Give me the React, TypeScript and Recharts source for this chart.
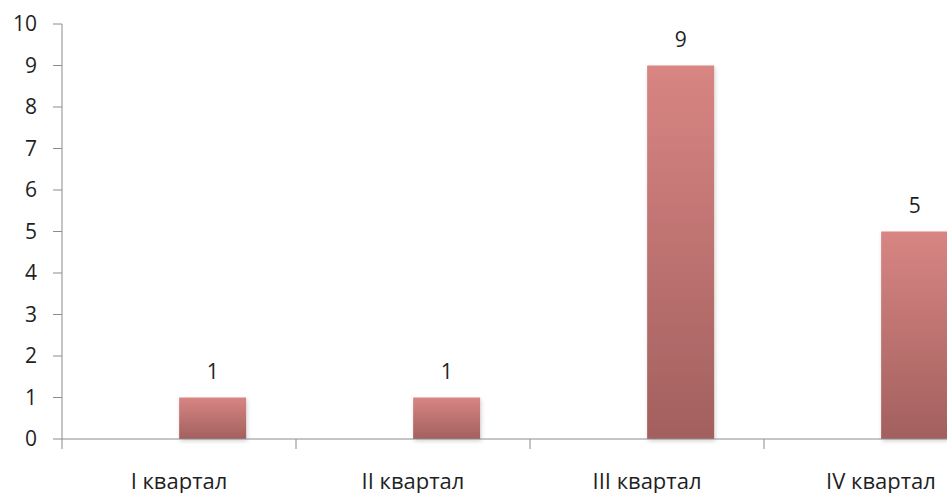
import React from "react";
import { BarChart, Bar, XAxis, YAxis, LabelList } from "recharts";

const categories = ["I квартал", "II квартал", "III квартал", "IV квартал"];
const placeholderSeries: (number | null)[] = [null, null, null, null];
const values = [1, 1, 9, 5];
const yTicks = [0, 1, 2, 3, 4, 5, 6, 7, 8, 9, 10];
const boundaryTicks = [0, 1, 2, 3, 4];

const data = categories.map((c, i) => ({
  name: c,
  pos: i + 0.5,
  empty: placeholderSeries[i],
  value: values[i],
}));

const FONT = "'Open Sans', 'DejaVu Sans', sans-serif";
const TEXT = "#1f1f1f";
const AXIS = "#8c8c8c";

export default function App() {
  return (
    <div
      style={{
        position: "fixed",
        left: 0,
        top: 0,
        width: 947,
        height: 493,
        overflow: "hidden",
        background: "#fff",
      }}
    >
      <BarChart
        width={1012}
        height={493}
        data={data}
        margin={{ top: 24, right: 14, bottom: 0, left: 0 }}
        barCategoryGap="21.43%"
        barGap={0}
        style={{ fontFamily: FONT }}
      >
        <defs>
          <linearGradient id="barGrad" x1="0" y1="0" x2="0" y2="1">
            <stop offset="0%" stopColor="#d88583" />
            <stop offset="100%" stopColor="#a2605e" />
          </linearGradient>
          <filter id="barShadow" x="-20%" y="-5%" width="140%" height="115%">
            <feDropShadow dx="1" dy="2" stdDeviation="2" floodColor="#000" floodOpacity="0.18" />
          </filter>
        </defs>
        <XAxis
          xAxisId="bounds"
          type="number"
          dataKey="pos"
          domain={[0, 4]}
          ticks={boundaryTicks}
          height={1}
          tickFormatter={() => ""}
          tickLine={{ stroke: AXIS }}
          tickSize={10}
          axisLine={{ stroke: AXIS }}
          interval={0}
          allowDataOverflow
        />
        <XAxis
          xAxisId="cat"
          dataKey="name"
          height={53}
          axisLine={false}
          tickLine={false}
          tickSize={8}
          tickMargin={25}
          interval={0}
          tick={{ fill: TEXT, fontSize: 22, fontFamily: FONT }}
        />
        <YAxis
          domain={[0, 10]}
          ticks={yTicks}
          width={62}
          interval={0}
          axisLine={{ stroke: AXIS }}
          tickLine={{ stroke: AXIS }}
          tickSize={9}
          tickMargin={16}
          tick={{ fill: TEXT, fontSize: 21, fontFamily: FONT }}
        />
        <Bar
          xAxisId="cat"
          dataKey="empty"
          fill="url(#barGrad)"
          isAnimationActive={false}
        />
        <Bar
          xAxisId="cat"
          dataKey="value"
          fill="url(#barGrad)"
          filter="url(#barShadow)"
          isAnimationActive={false}
        >
          <LabelList
            dataKey="value"
            position="top"
            offset={19}
            fill={TEXT}
            fontSize={21}
            fontFamily={FONT}
          />
        </Bar>
      </BarChart>
    </div>
  );
}
